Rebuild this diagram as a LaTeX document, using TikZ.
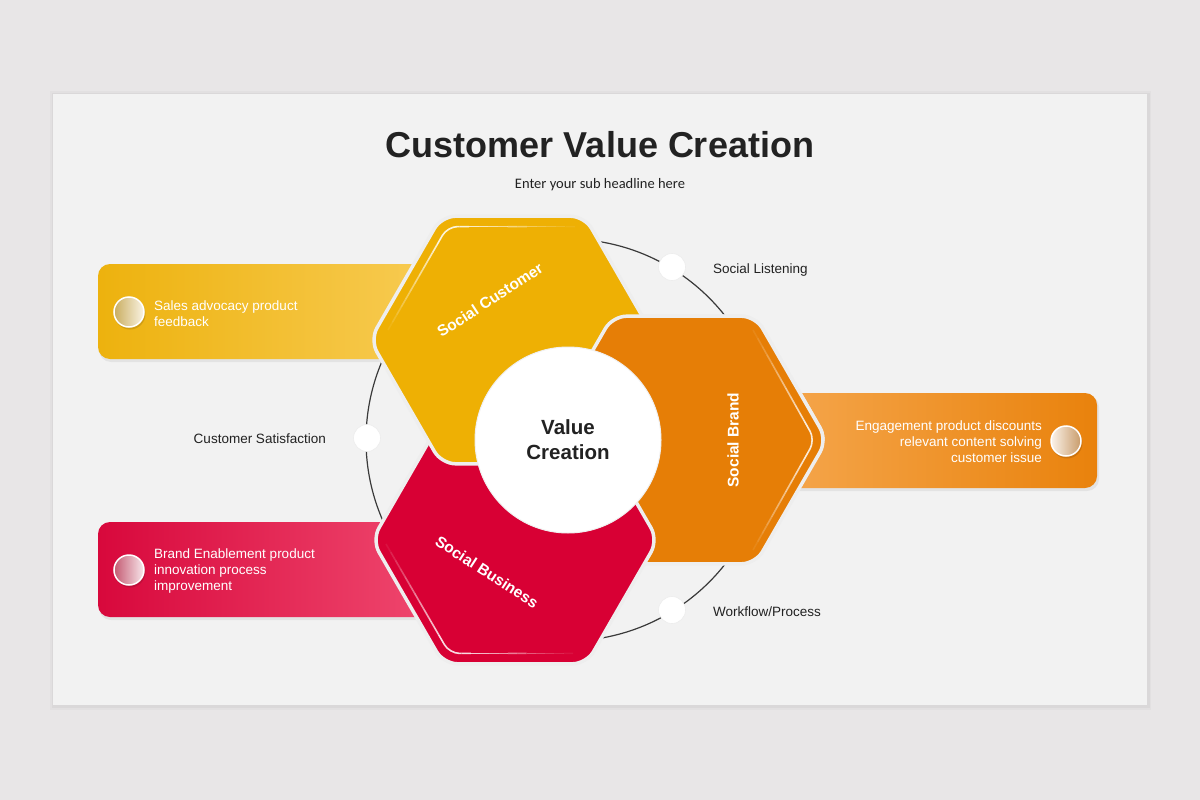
\documentclass[tikz,border=0pt]{standalone}
\usepackage{fontspec}
\setmainfont{Liberation Sans}
\newfontfamily\subfont{Carlito}
\usetikzlibrary{calc}
\definecolor{bgc}{HTML}{E8E6E7}
\definecolor{panelc}{HTML}{F2F2F2}
\definecolor{titlec}{HTML}{222222}
\definecolor{ringc}{HTML}{3A3A3A}
\definecolor{yhex}{HTML}{EEB004}
\definecolor{ohex}{HTML}{E67E06}
\definecolor{rhex}{HTML}{D80034}
\definecolor{ybox1}{HTML}{EDB20E}
\definecolor{ybox2}{HTML}{F8CC55}
\definecolor{obox1}{HTML}{F5A64C}
\definecolor{obox2}{HTML}{E9820C}
\definecolor{rbox1}{HTML}{D8083C}
\definecolor{rbox2}{HTML}{F04A70}
\definecolor{hexedge}{HTML}{EEEEEE}
\definecolor{ydot1}{HTML}{C9AD60}
\definecolor{ydot2}{HTML}{FAF4E4}
\definecolor{rdot1}{HTML}{C45A72}
\definecolor{rdot2}{HTML}{F8E8EC}
\definecolor{odot1}{HTML}{FBF3EA}
\definecolor{odot2}{HTML}{C89B6A}
\newcommand\hexshape{(0,-123.8) -- (71.5,-123.8) -- (143,0) -- (71.5,123.8) -- (-71.5,123.8) -- (-143,0) -- (-71.5,-123.8) -- cycle}
% fading highlight: #1 end A, #2 corner, #3 end B
\newcommand\hilite[3]{%
  \coordinate (hA) at ($(#2)!12pt!(#1)$);
  \coordinate (hB) at ($(#2)!12pt!(#3)$);
  \draw[highlight] (hA) -- (#2) -- (hB);
  \foreach \k in {0,...,11}{%
    \pgfmathsetmacro\op{0.85*(1-\k/12)}%
    \pgfmathsetmacro\ka{\k/12}%
    \pgfmathsetmacro\kb{(\k+1)/12}%
    \draw[white, line width=1.6pt, opacity=\op] ($(hA)!\ka!(#1)$) -- ($(hA)!\kb!(#1)$);
    \draw[white, line width=1.6pt, opacity=\op] ($(hB)!\ka!(#3)$) -- ($(hB)!\kb!(#3)$);
  }%
}
\begin{document}
\begin{tikzpicture}[x=1pt,y=-1pt,
  hexagon/.style={rounded corners=14pt, draw=hexedge, line width=3.5pt},
  highlight/.style={draw=white, line width=1.6pt, rounded corners=10pt, opacity=0.85},
  sidebox/.style={rounded corners=12pt},
  boxshadow/.style={fill=black, opacity=0.06, rounded corners=12pt},
  boxdot/.style={circle, minimum size=30pt, inner sep=0pt, draw=white, line width=1.5pt},
  ringdot/.style={circle, minimum size=27pt, inner sep=0pt, fill=white, draw=black!7, line width=0.6pt},
  ringlabel/.style={font=\fontsize{13.5}{16}\selectfont, text=titlec, inner sep=0pt},
  boxtext/.style={font=\fontsize{13.5}{16}\selectfont, text=white, inner sep=0pt},
  hexlabel/.style={font=\bfseries\fontsize{15.5}{18}\selectfont, text=white, inner sep=0pt},
]
\useasboundingbox (0,0) rectangle (1200,800);
\fill[bgc] (0,0) rectangle (1200,800);
% panel with shadow
\fill[black, opacity=0.025] (50,91) rectangle (1151,710);
\fill[black, opacity=0.03] (52,93) rectangle (1150,708);
\fill[panelc] (53,94) rectangle (1147,705);
% titles
\node[anchor=base, font=\bfseries\fontsize{36}{42}\selectfont, text=titlec, inner sep=0pt] (title) at (600,157) {Customer Value Creation};
\node[anchor=base, font=\subfont\fontsize{14.5}{17}\selectfont, text=titlec, inner sep=0pt] (sub) at (600,188) {Enter your sub headline here};
% ring
\node[circle, minimum size=402pt, inner sep=0pt, draw=ringc, line width=1.2pt] (ring) at (567,440) {};
% side boxes
\fill[boxshadow] (99,266) rectangle (447,362);
\shade[sidebox, left color=ybox1, right color=ybox2] (98,264) rectangle (445,359);
\fill[boxshadow] (99,524) rectangle (447,620);
\shade[sidebox, left color=rbox1, right color=rbox2] (98,522) rectangle (445,617);
\fill[boxshadow] (781,395) rectangle (1099,491);
\shade[sidebox, left color=obox1, right color=obox2] (780,393) rectangle (1097,488);
% hexagons (cyclic overlap)
\begin{scope}[shift={(684,440)}]
  \filldraw[hexagon, fill=ohex] \hexshape;
\end{scope}
\begin{scope}[shift={(515,540)}]
  \filldraw[hexagon, fill=rhex] \hexshape;
  \hilite{-129,4}{-65.5,113.4}{58,113.4}
\end{scope}
\begin{scope}[shift={(513,340)}]
  \filldraw[hexagon, fill=yhex] \hexshape;
  \hilite{-125,-10}{-65.5,-113.4}{62,-113.4}
\end{scope}
\begin{scope}
  \clip (568,150) rectangle (900,440);
  \begin{scope}[shift={(684,440)}]
    \filldraw[hexagon, fill=ohex] \hexshape;
  \end{scope}
\end{scope}
\begin{scope}[shift={(684,440)}]
  \hilite{69,-110}{131,0}{69,110}
\end{scope}
% center circle
\node[circle, fill=white, draw=black!6, line width=1pt, minimum size=186pt, inner sep=0pt,
      font=\bfseries\fontsize{20.5}{25}\selectfont, text=titlec, align=center] (core) at (568,440) {Value\\Creation};
% hex labels
\node[hexlabel, rotate=33] (lcust) at (490,300) {Social Customer};
\node[hexlabel, rotate=90] (lbrand) at (733,440) {Social Brand};
\node[hexlabel, rotate=-33] (lbus) at (487,572) {Social Business};
% ring dots and labels
\node[ringdot] (dlisten) at (672,267) {};
\node[ringdot] (dsat) at (367,438) {};
\node[ringdot] (dwork) at (672,610) {};
\node[ringlabel, anchor=base west] (tlisten) at (713,273) {Social Listening};
\node[ringlabel, anchor=base east] (tsat) at (326,443) {Customer Satisfaction};
\node[ringlabel, anchor=base west] (twork) at (713,616) {Workflow/Process};
% box dots
\fill[black, opacity=0.12] (130,314) circle (15.5);
\node[boxdot, left color=ydot1, right color=ydot2] (ydot) at (129,312) {};
\fill[black, opacity=0.12] (130,572) circle (15.5);
\node[boxdot, left color=rdot1, right color=rdot2] (rdot) at (129,570) {};
\fill[black, opacity=0.12] (1067,443) circle (15.5);
\node[boxdot, left color=odot1, right color=odot2] (odot) at (1066,441) {};
% box texts
\node[boxtext, anchor=base west] (ytext) at (154,310) {\begin{tabular}[t]{@{}l@{}}Sales advocacy product\\feedback\end{tabular}};
\node[boxtext, anchor=base west] (rtext) at (154,558) {\begin{tabular}[t]{@{}l@{}}Brand Enablement product\\innovation process\\improvement\end{tabular}};
\node[boxtext, anchor=base east] (otext) at (1042,430) {\begin{tabular}[t]{@{}r@{}}Engagement product discounts\\relevant content solving\\customer issue\end{tabular}};
\end{tikzpicture}
\end{document}
